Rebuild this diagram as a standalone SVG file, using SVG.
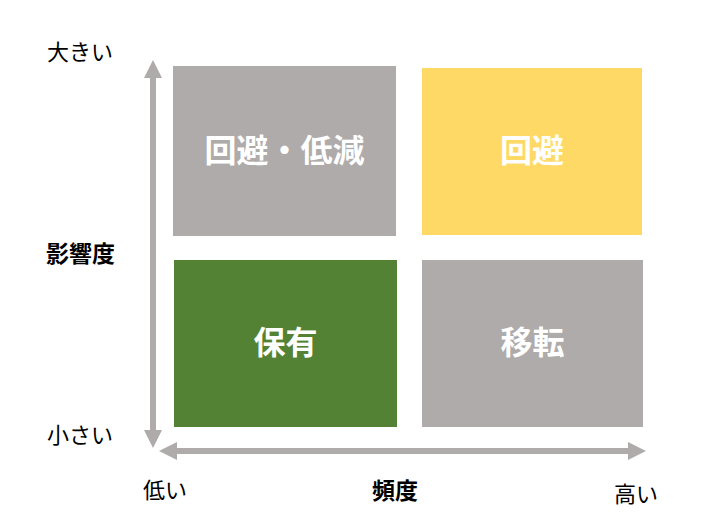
<svg xmlns="http://www.w3.org/2000/svg" width="718" height="523" viewBox="0 0 718 523">
<style>
.box-label{font-family:"Noto Sans CJK JP","Noto Sans",sans-serif;font-weight:bold;font-size:32px;fill:#ffffff;text-anchor:middle}
.axis{font-family:"Noto Sans CJK JP","Noto Sans",sans-serif;font-size:22px;fill:#000000}
.axis-title{font-family:"Noto Sans CJK JP","Noto Sans",sans-serif;font-size:23px;font-weight:bold;fill:#000000}
.arrow{stroke:#AFABAB;stroke-width:6;fill:none}
</style>
<defs>
<marker id="ah" viewBox="0 0 3 3" refX="0" refY="1.5" markerWidth="3" markerHeight="3" orient="auto-start-reverse" markerUnits="strokeWidth">
<path d="M0,0 L3,1.5 L0,3 Z" fill="#AFABAB"/>
</marker>
</defs>
<rect width="718" height="523" fill="#ffffff"/>
<g id="connectors">
<line class="arrow" x1="153" y1="78" x2="153" y2="430" marker-start="url(#ah)" marker-end="url(#ah)"/>
<line class="arrow" x1="177" y1="451" x2="628" y2="451" marker-start="url(#ah)" marker-end="url(#ah)"/>
</g>
<g id="node-avoid-reduce">
<rect x="173" y="66" width="223" height="170" fill="#AFABAB"/>
<text class="box-label" x="284.5" y="162">回避・低減</text>
</g>
<g id="node-avoid">
<rect x="422" y="68" width="220" height="167" fill="#FFD966"/>
<text class="box-label" x="532" y="162">回避</text>
</g>
<g id="node-retain">
<rect x="174" y="260" width="223" height="167" fill="#548235"/>
<text class="box-label" x="285.5" y="354">保有</text>
</g>
<g id="node-transfer">
<rect x="422" y="260" width="221" height="167" fill="#AFABAB"/>
<text class="box-label" x="532.5" y="354">移転</text>
</g>
<g id="labels">
<text class="axis" x="47" y="60">大きい</text>
<text class="axis-title" x="46" y="262">影響度</text>
<text class="axis" x="47" y="443">小さい</text>
<text class="axis" x="143" y="498">低い</text>
<text class="axis-title" x="395" y="499" text-anchor="middle">頻度</text>
<text class="axis" x="614" y="502">高い</text>
</g>
</svg>
